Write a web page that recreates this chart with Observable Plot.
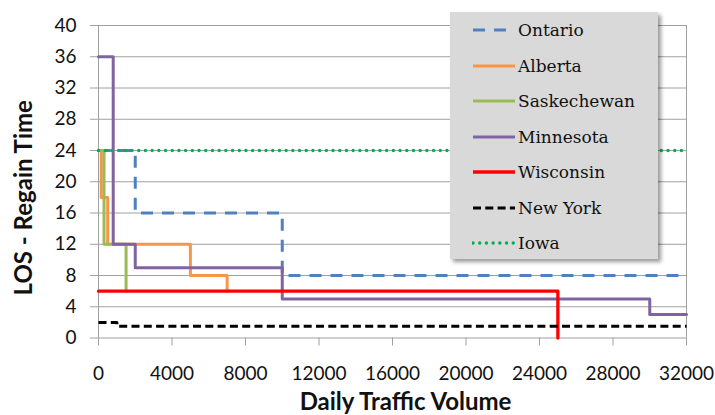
<!DOCTYPE html>
<html><head><meta charset="utf-8">
<script src="https://cdn.jsdelivr.net/npm/d3@7"></script>
<script src="https://cdn.jsdelivr.net/npm/@observablehq/plot@0.6"></script>
<style>
body{margin:0;background:#fff;}
#wrap{position:relative;width:715px;height:415px;overflow:hidden;}
#legend{position:absolute;left:450px;top:12px;width:208px;height:247px;background:#D9D9D9;box-shadow:3px 3px 4px rgba(0,0,0,0.4);font-family:"DejaVu Serif";font-size:17px;color:#111;}
.item{position:absolute;left:0;width:208px;height:24px;}
.item svg{position:absolute;left:22px;top:0;}
.item span{position:absolute;left:68px;top:0;line-height:24px;white-space:nowrap;}
</style></head>
<body><div id="wrap"><div id="chart"></div><div id="legend"></div></div>
<script>
// Series names (legend order)
const seriesNames = ["Ontario","Alberta","Saskechewan","Minnesota","Wisconsin","New York","Iowa"];
// Breakpoints (step-after): x = daily traffic volume, y = LOS regain time
const ontarioX = [0, 2000, 10000, 32000];
const ontarioY = [24, 16, 8, 8];
const albertaX = [0, 150, 500, 5000, 7000];
const albertaY = [24, 18, 12, 8, 6];
const saskX = [0, 300, 1500];
const saskY = [24, 12, 6];
const minnesotaX = [0, 800, 2000, 10000, 30000, 32000];
const minnesotaY = [36, 12, 9, 5, 3, 3];
const wisconsinX = [0, 25000];
const wisconsinY = [6, 0];
const newYorkX = [0, 1000, 32000];
const newYorkY = [2, 1.5, 1.5];
const iowaX = [0, 32000];
const iowaY = [24, 24];
// Tick labels
const xTicks = [0,4000,8000,12000,16000,20000,24000,28000,32000];
const yTicks = [0,4,8,12,16,20,24,28,32,36,40];

const seriesXY = [[ontarioX,ontarioY],[albertaX,albertaY],[saskX,saskY],[minnesotaX,minnesotaY],[wisconsinX,wisconsinY],[newYorkX,newYorkY],[iowaX,iowaY]];
const data = [];
seriesNames.forEach((name,i)=>{
  const [xs,ys] = seriesXY[i];
  xs.forEach((x,j)=>data.push({series:name, x, y:ys[j]}));
});

const styles = {
  "Ontario":     {stroke:"#4F81BD", strokeWidth:3, strokeDasharray:"12,9", strokeLinecap:"butt"},
  "Alberta":     {stroke:"#F79646", strokeWidth:3},
  "Saskechewan": {stroke:"#9BBB59", strokeWidth:3},
  "Minnesota":   {stroke:"#8064A2", strokeWidth:3},
  "Wisconsin":   {stroke:"#FF0000", strokeWidth:3.3},
  "New York":    {stroke:"#000000", strokeWidth:3, strokeDasharray:"8,4.3", strokeLinecap:"butt"},
  "Iowa":        {stroke:"#00B050", strokeWidth:3.3, strokeDasharray:"0.1,6.6", strokeLinecap:"round"}
};

const gridColor = "#A0A0A0";
const chart = Plot.plot({
  width:715, height:415,
  marginLeft:98, marginRight:29, marginTop:25, marginBottom:77.5,
  x:{domain:[0,32000]},
  y:{domain:[0,40]},
  style:{fontFamily:"Lato", fontSize:"19px", color:"#111", background:"transparent"},
  marks:[
    Plot.ruleY(yTicks, {stroke:gridColor, strokeWidth:1}),
    Plot.ruleX([0, 32000], {y1:0, y2:40, stroke:gridColor, strokeWidth:1}),
    Plot.axisY({ticks:yTicks, tickSize:8, tickPadding:14, stroke:gridColor, label:null, fontSize:19}),
    Plot.axisX({ticks:xTicks, tickSize:8, tickPadding:20, stroke:gridColor, label:null, fontSize:19, tickFormat:d=>String(d)}),
    ...seriesNames.map(name => Plot.line(data.filter(d=>d.series===name), {x:"x", y:"y", curve:"step-after", ...styles[name]})),
    Plot.text(["LOS - Regain Time"], {frameAnchor:"left", dx:-74, dy:16, rotate:-90, textAnchor:"middle", lineAnchor:"middle", fontSize:24, fontWeight:"bold", fill:"#111"}),
    Plot.text(["Daily Traffic Volume"], {frameAnchor:"bottom", dx:13, dy:64, textAnchor:"middle", lineAnchor:"middle", fontSize:24, fontWeight:"bold", fill:"#111"})
  ]
});
document.getElementById("chart").appendChild(chart);

// Legend overlay
const legend = document.getElementById("legend");
seriesNames.forEach((name,i)=>{
  const s = styles[name];
  const item = document.createElement("div");
  item.className = "item";
  item.style.top = (6 + i*35.5) + "px";
  item.innerHTML = `<svg width="44" height="24"><line x1="1" x2="43" y1="12" y2="12" stroke="${s.stroke}" stroke-width="${s.strokeWidth}" ${s.strokeDasharray?`stroke-dasharray="${s.strokeDasharray}"`:""} stroke-linecap="${s.strokeLinecap||"butt"}"/></svg><span>${name}</span>`;
  legend.appendChild(item);
});
</script>
</body></html>
